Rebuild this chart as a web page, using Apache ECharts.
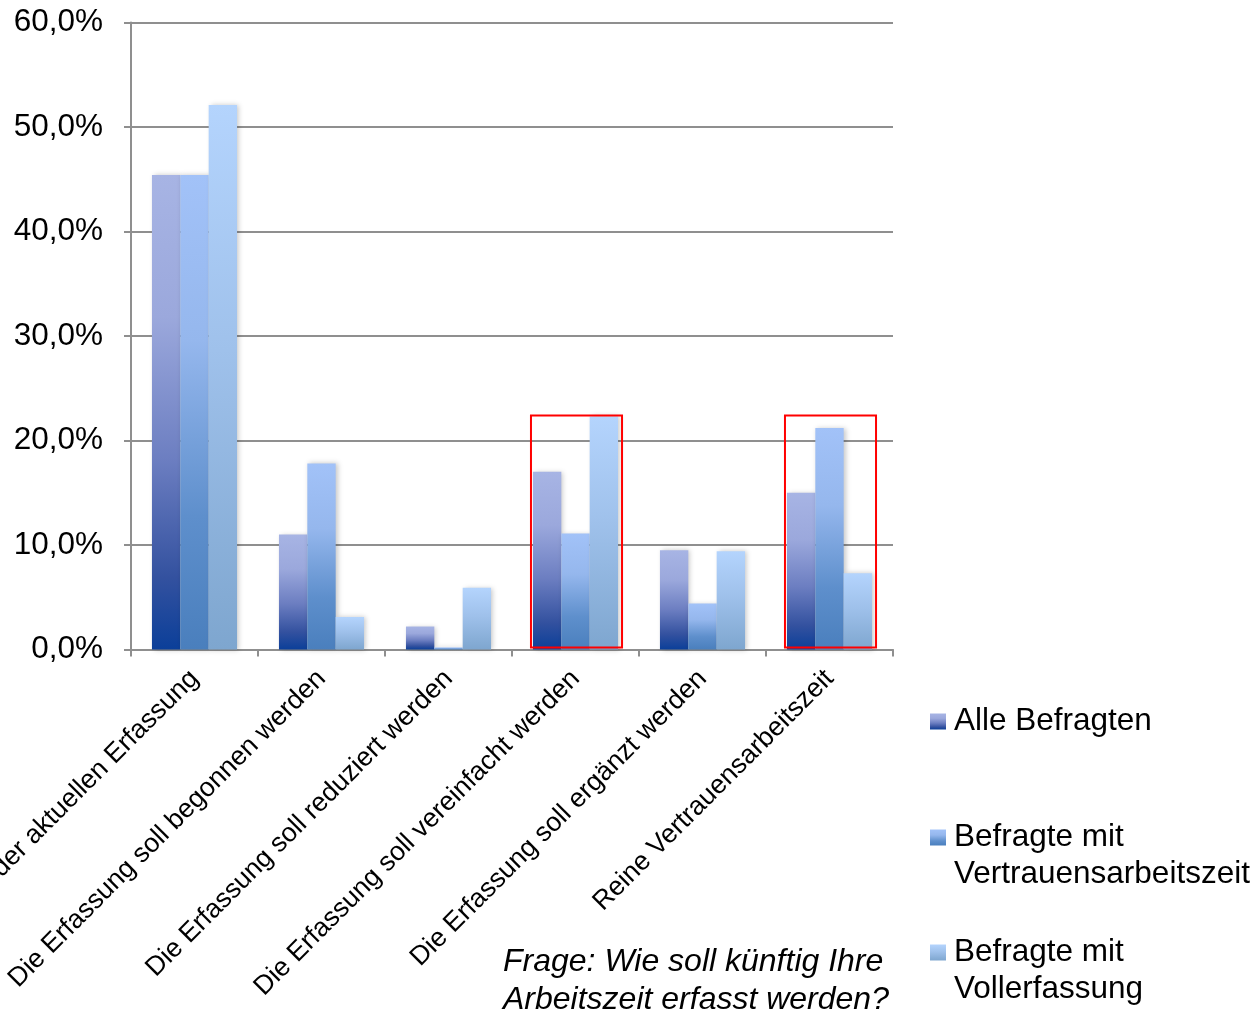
<!DOCTYPE html>
<html>
<head>
<meta charset="utf-8">
<script src="https://cdn.jsdelivr.net/npm/echarts@6/dist/echarts.min.js"></script>
<style>
  html, body { margin: 0; padding: 0; background: #ffffff; }
  #chart { width: 1259px; height: 1011px; }
</style>
</head>
<body>
<div id="chart"></div>
<script>
// Survey answers: how working time should be recorded in future (share of respondents, %)
const categories = [
  'Beibehaltung der aktuellen Erfassung',
  'Die Erfassung soll begonnen werden',
  'Die Erfassung soll reduziert werden',
  'Die Erfassung soll vereinfacht werden',
  'Die Erfassung soll ergänzt werden',
  'Reine Vertrauensarbeitszeit'
];

const seriesNames = [
  'Alle Befragten',
  'Befragte mit Vertrauensarbeitszeit',
  'Befragte mit Vollerfassung'
];

const alleBefragten      = [45.4, 11.0, 2.2, 17.0, 9.5, 15.0];
const vertrauensarbeit   = [45.4, 17.8, 0.2, 11.1, 4.4, 21.2];
const vollerfassung      = [52.1, 3.1, 5.9, 22.3, 9.4, 7.3];

const yTicks = [0, 10, 20, 30, 40, 50, 60];

// Answer groups outlined in red: [category, lower %, upper %]
const highlighted = [
  ['Die Erfassung soll vereinfacht werden', 0.2, 22.4],
  ['Reine Vertrauensarbeitszeit', 0.2, 22.4]
];

const questionText = 'Frage: Wie soll künftig Ihre\nArbeitszeit erfasst werden?';

const FONT = '"Liberation Sans", Arial, Helvetica, sans-serif';
const GRID_GREY = '#8f8f8f';

function vGrad(stops) {
  return new echarts.graphic.LinearGradient(0, 0, 0, 1,
    stops.map(s => ({ offset: s[0], color: s[1] })));
}

const fills = [
  vGrad([[0, '#a7b4e4'], [0.3, '#9ba8dc'], [0.6, '#6c7ec1'], [0.85, '#33519f'], [1, '#0b3f99']]),
  vGrad([[0, '#a2c2f8'], [0.35, '#95b7ed'], [0.72, '#5e8fcc'], [1, '#4a7fbd']]),
  vGrad([[0, '#b4d4fd'], [0.45, '#9fc1eb'], [1, '#7ea6cf']])
];

const values = [alleBefragten, vertrauensarbeit, vollerfassung];

const barSeries = seriesNames.map((name, i) => ({
  name: name,
  type: 'bar',
  data: values[i],
  barGap: '0%',
  barCategoryGap: '33%',
  itemStyle: {
    color: fills[i],
    shadowColor: 'rgba(0,0,0,0.22)',
    shadowBlur: 5,
    shadowOffsetX: 2,
    shadowOffsetY: 0
  },
  emphasis: { disabled: true }
}));

const boxSeries = {
  type: 'custom',
  name: 'markierung',
  silent: true,
  z: 10,
  encode: { x: 0, y: [1, 2] },
  data: highlighted,
  renderItem: function (params, api) {
    const lo = api.coord([api.value(0), api.value(1)]);
    const hi = api.coord([api.value(0), api.value(2)]);
    const w = api.size([1, 0])[0] * 0.717;
    return {
      type: 'rect',
      shape: { x: hi[0] - w / 2 + 1, y: hi[1], width: w, height: lo[1] - hi[1] },
      style: { fill: 'none', stroke: '#ff0000', lineWidth: 2 }
    };
  }
};

// Multi-line legend entries get a leading blank line so the swatch sits on the first line
function legendLabel(name) {
  const idx = name.indexOf(' mit ');
  if (idx < 0) return name;
  return '\n' + name.slice(0, idx + 4) + '\n' + name.slice(idx + 5);
}

const legendTops = [703, 782, 897];
const legends = seriesNames.map((name, i) => ({
  data: [name],
  orient: 'vertical',
  left: 930,
  top: legendTops[i],
  padding: 0,
  itemWidth: 16,
  itemHeight: 16,
  itemGap: 0,
  icon: 'rect',
  selectedMode: false,
  formatter: legendLabel,
  textStyle: {
    fontFamily: FONT,
    fontSize: 31.5,
    lineHeight: 37,
    color: '#000000',
    padding: [0, 0, 0, 3]
  }
}));

const chart = echarts.init(document.getElementById('chart'), null, { renderer: 'canvas' });

chart.setOption({
  backgroundColor: '#ffffff',
  animation: false,
  title: {
    text: questionText,
    left: 503,
    top: 943,
    padding: 0,
    textStyle: {
      fontFamily: FONT,
      fontSize: 32,
      fontStyle: 'italic',
      fontWeight: 'normal',
      lineHeight: 38,
      color: '#000000'
    }
  },
  legend: legends,
  grid: {
    left: 131, right: 366, top: 22.5, bottom: 361.5,
    containLabel: false,
    outerBoundsMode: 'none'
  },
  xAxis: {
    type: 'category',
    data: categories,
    boundaryGap: true,
    axisLine: { show: true, lineStyle: { color: GRID_GREY, width: 2 } },
    axisTick: { show: true, length: 7, interval: 0, lineStyle: { color: GRID_GREY, width: 2 } },
    axisLabel: {
      interval: 0,
      rotate: 45,
      margin: 25,
      fontFamily: FONT,
      fontSize: 26.7,
      color: '#000000'
    },
    splitLine: { show: false }
  },
  yAxis: {
    type: 'value',
    min: yTicks[0],
    max: yTicks[yTicks.length - 1],
    interval: yTicks[1] - yTicks[0],
    axisLine: { show: true, lineStyle: { color: GRID_GREY, width: 2 } },
    axisTick: { show: true, length: 7, lineStyle: { color: GRID_GREY, width: 2 } },
    axisLabel: {
      margin: 28,
      fontFamily: FONT,
      fontSize: 31.5,
      color: '#000000',
      formatter: v => v.toFixed(1).replace('.', ',') + '%'
    },
    splitLine: { show: true, lineStyle: { color: GRID_GREY, width: 2 } }
  },
  series: barSeries.concat([boxSeries])
});
</script>
</body>
</html>
